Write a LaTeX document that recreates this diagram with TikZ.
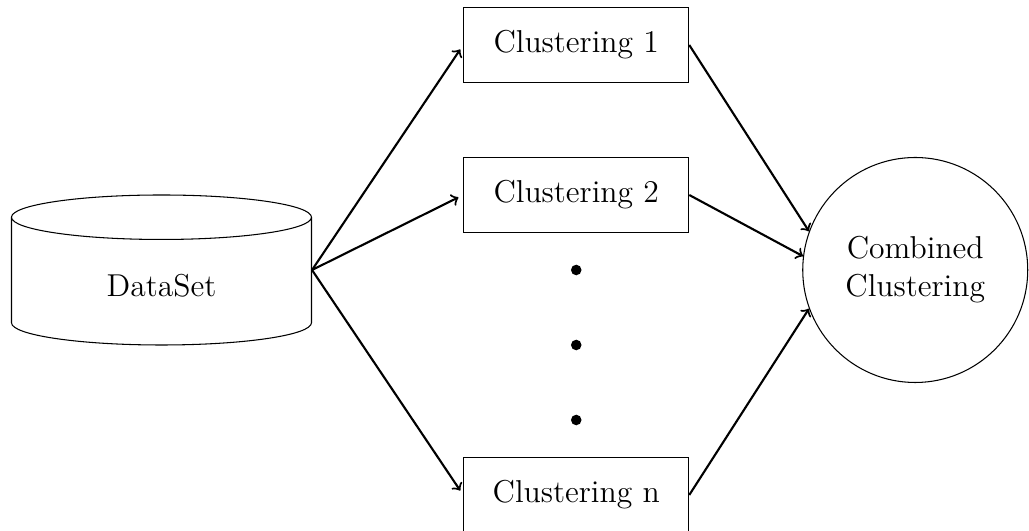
\documentclass[12pt,tikz,border=0pt]{standalone}
\usepackage{tikz}
\usetikzlibrary{positioning,shapes.geometric}

\begin{document}
\begin{tikzpicture}[
    node distance=1cm,
    on grid,
    database/.style={
      cylinder,
      shape border rotate=90,
      aspect=0.34,
      draw,
      minimum width=4cm,
      minimum height=2cm,
      align=center
    },
    cluster/.style={
      rectangle,
      draw,
      minimum width=3cm,
      minimum height=1cm,
      align=center
    },
    combined/.style={
      circle,
      draw,
      minimum size=3cm,
      align=center
    },
    dot/.style={
      circle,
      fill,
      inner sep=0pt,
      minimum size=4pt
    },
    arrow/.style={->, thick, shorten >=2pt}
  ]
    \useasboundingbox (-2.153,-3.467) rectangle (11.567,3.6);

    \node[database, anchor=shape center] (data) at (0,0) {DataSet};
    \coordinate (hub) at (data.shape center);
    \coordinate (dataout) at (data.east |- hub);
    \node[cluster, above right=3cm and 5.53cm of hub, anchor=center] (c1) {Clustering 1};
    \node[cluster, below=2cm of c1] (c2) {Clustering 2};
    \node[dot, below=of c2] (dot1) {};
    \node[dot, below=of dot1] (dot2) {};
    \node[dot, below=of dot2] (dot3) {};
    \node[cluster, below=of dot3] (cn) {Clustering n};
    \node[combined, right=10.05cm of hub, anchor=center] (comb) {Combined\\Clustering};

    \draw[arrow] (dataout) -- (c1.west);
    \draw[arrow] (dataout) -- (c2.west);
    \draw[arrow] (dataout) -- (cn.west);
    \draw[arrow, shorten >=0pt] (c1.east) -- (comb.160);
    \draw[arrow, shorten >=0pt] (c2.east) -- (comb.173);
    \draw[arrow, shorten >=0pt] (cn.east) -- (comb.200);
  \end{tikzpicture}
\end{document}
